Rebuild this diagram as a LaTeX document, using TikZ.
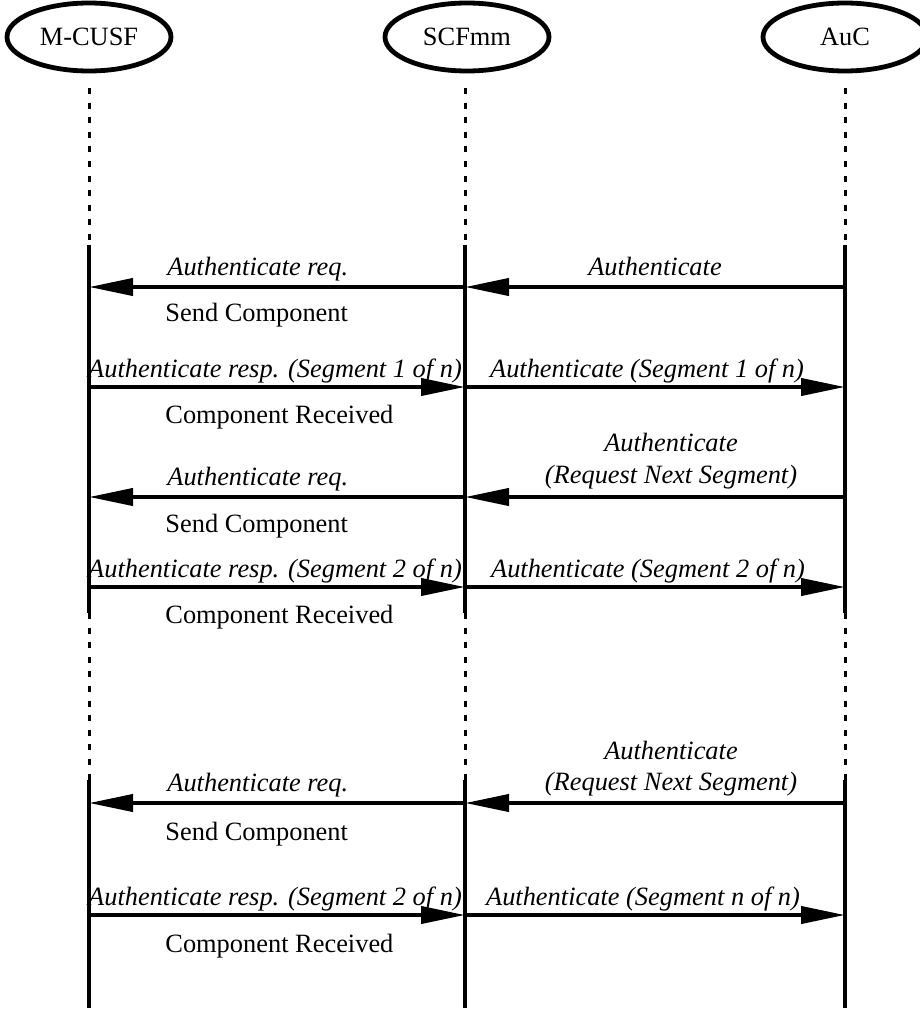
\documentclass[tikz,border=0pt]{standalone}
\usepackage{fontspec}
\setmainfont{Liberation Serif}
\usetikzlibrary{arrows.meta,shapes.geometric}

\begin{document}
\begin{tikzpicture}[x=0.5pt,y=-0.5pt,
  txt/.style={font=\fontsize{13.2}{15.5}\selectfont},
  entity/.style={ellipse,draw,line width=2.4pt,minimum width=82pt,minimum height=34pt,inner sep=0pt,txt},
  live/.style={line width=2pt},
  idle/.style={line width=1.5pt,dash pattern=on 3pt off 4.3pt},
  msg/.style={line width=2pt,-{Triangle[length=22pt,width=8.5pt]}},
  lbl/.style={txt,font=\fontsize{13.2}{15.5}\selectfont\itshape,inner sep=0pt,anchor=base},
  lblw/.style={lbl,anchor=base west},
  note/.style={txt,inner sep=0pt,anchor=base west}]

\useasboundingbox (0,0) rectangle (920,1012);

% entities
\node[entity] (cusf) at (89,37) {M-CUSF};
\node[entity] (scf)  at (467,37) {SCFmm};
\node[entity] (auc)  at (845,37) {AuC};

% lifeline break points
\foreach \n/\x in {cusf/89,scf/465,auc/845}{
  \coordinate (\n-top) at (\x,88);
  \coordinate (\n-s1) at (\x,245);
  \coordinate (\n-e1) at (\x,613);
  \coordinate (\n-s2) at (\x,780);
  \coordinate (\n-e2) at (\x,1008);
}
\foreach \n in {cusf,scf,auc}{
  \draw[idle] (\n-top) -- (\n-s1);
  \draw[live] (\n-s1) -- (\n-e1);
  \draw[idle] (\n-e1) -- (\n-s2);
  \draw[live] (\n-s2) -- (\n-e2);
}

% message end points
\foreach \y [count=\i] in {287,387,497,587,803,915}{
  \coordinate (c\i) at (89,\y);
  \coordinate (s\i) at (465,\y);
  \coordinate (a\i) at (845,\y);
}

% segment 1
\draw[msg] (a1) -- (s1);
\draw[msg] (s1) -- (c1);
\node[lbl]  (t1r) at (655,275) {Authenticate};
\node[lblw] (t1l) at (167,275) {Authenticate req.};
\node[note] (n1)  at (165,321) {Send Component};
\draw[msg] (c2) -- (s2);
\draw[msg] (s2) -- (a2);
\node[lbl]  (t2l) at (275,377) {Authenticate resp. (Segment 1 of n)};
\node[lbl]  (t2r) at (647,377) {Authenticate (Segment 1 of n)};
\node[note] (n2)  at (165,423) {Component Received};

% segment 2
\draw[msg] (a3) -- (s3);
\draw[msg] (s3) -- (c3);
\node[lbl]  (t3a) at (671,451) {Authenticate};
\node[lbl]  (t3b) at (671,483) {(Request Next Segment)};
\node[lblw] (t3l) at (167,485) {Authenticate req.};
\node[note] (n3)  at (165,532) {Send Component};
\draw[msg] (c4) -- (s4);
\draw[msg] (s4) -- (a4);
\node[lbl]  (t4l) at (275,577) {Authenticate resp. (Segment 2 of n)};
\node[lbl]  (t4r) at (648,577) {Authenticate (Segment 2 of n)};
\node[note] (n4)  at (165,623) {Component Received};

% last segment
\draw[msg] (a5) -- (s5);
\draw[msg] (s5) -- (c5);
\node[lbl]  (t5a) at (671,759) {Authenticate};
\node[lbl]  (t5b) at (671,790) {(Request Next Segment)};
\node[lblw] (t5l) at (167,791) {Authenticate req.};
\node[note] (n5)  at (165,840) {Send Component};
\draw[msg] (c6) -- (s6);
\draw[msg] (s6) -- (a6);
\node[lbl]  (t6l) at (275,905) {Authenticate resp. (Segment 2 of n)};
\node[lbl]  (t6r) at (643,905) {Authenticate (Segment n of n)};
\node[note] (n6)  at (165,952) {Component Received};
\end{tikzpicture}
\end{document}
